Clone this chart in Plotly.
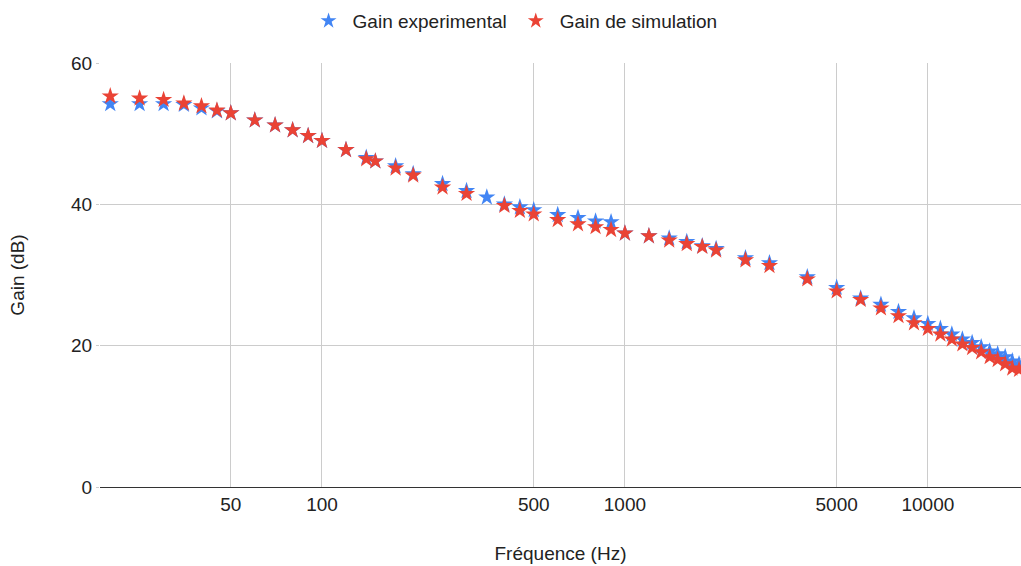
import math
import plotly.graph_objects as go

freq_exp = [20, 25, 30, 35, 40, 45, 50, 60, 70, 80, 90, 100, 120, 140, 150, 175, 200, 250, 300, 350,
            400, 450, 500, 600, 700, 800, 900, 1000, 1200, 1400, 1600, 1800, 2000, 2500, 3000, 4000,
            5000, 6000, 7000, 8000, 9000, 10000, 11000, 12000, 13000, 14000, 15000, 16000, 17000,
            18000, 19000, 20000]
gain_exp = [54.2, 54.2, 54.2, 54.1, 53.6, 53.2, 52.9, 51.9, 51.2, 50.5, 49.7, 49.0, 47.7, 46.6, 46.1,
            45.4, 44.3, 42.9, 41.9, 41.0, 40.0, 39.6, 39.2, 38.5, 38.1, 37.6, 37.5, 35.9, 35.5, 35.2,
            34.7, 34.1, 33.7, 32.4, 31.7, 29.7, 28.2, 26.7, 25.8, 24.8, 23.9, 23.1, 22.4, 21.6, 20.9,
            20.4, 19.8, 19.2, 18.8, 18.4, 17.8, 17.4]

freq_sim = [20, 25, 30, 35, 40, 45, 50, 60, 70, 80, 90, 100, 120, 140, 150, 175, 200, 250, 300,
            400, 450, 500, 600, 700, 800, 900, 1000, 1200, 1400, 1600, 1800, 2000, 2500, 3000, 4000,
            5000, 6000, 7000, 8000, 9000, 10000, 11000, 12000, 13000, 14000, 15000, 16000, 17000,
            18000, 19000, 20000]
gain_sim = [55.3, 55.0, 54.8, 54.3, 53.9, 53.3, 52.9, 51.9, 51.2, 50.5, 49.7, 49.0, 47.7, 46.4, 46.1,
            45.1, 44.1, 42.4, 41.5, 39.8, 39.1, 38.6, 37.8, 37.2, 36.8, 36.4, 35.9, 35.5, 34.9,
            34.4, 34.0, 33.5, 32.1, 31.3, 29.4, 27.7, 26.5, 25.3, 24.2, 23.2, 22.4, 21.6, 20.9,
            20.2, 19.7, 19.1, 18.4, 18.0, 17.4, 16.8, 16.6]

x_ticks = [50, 100, 500, 1000, 5000, 10000]
x_ticktext = ["50", "100", "500", "1000", "5000", "10000"]
y_ticks = [0, 20, 40, 60]

FONT = "Arial, Liberation Sans, sans-serif"
FS = 19
TXT = "#222222"

fig = go.Figure()
fig.add_trace(go.Scatter(x=freq_exp, y=gain_exp, mode="markers", name="Gain experimental",
                         marker=dict(symbol="star", size=13, color="#4285F4", line=dict(width=0)),
                         cliponaxis=False))
fig.add_trace(go.Scatter(x=freq_sim, y=gain_sim, mode="markers", name="Gain de simulation",
                         marker=dict(symbol="star", size=13, color="#EA4335", line=dict(width=0)),
                         cliponaxis=False))

fig.update_layout(
    width=1021, height=566,
    margin=dict(l=100, r=0, t=63, b=79),
    paper_bgcolor="white", plot_bgcolor="white",
    font=dict(family=FONT, size=FS, color=TXT),
    legend=dict(orientation="h", xref="container", yref="container", x=0.503, xanchor="center",
                y=1 - 21 / 566, yanchor="middle", font=dict(size=FS, color=TXT),
                itemsizing="constant", itemwidth=38),
    xaxis=dict(type="log", range=[math.log10(18.5), math.log10(20300)],
               tickvals=x_ticks, ticktext=x_ticktext, showgrid=True, gridcolor="#cccccc",
               gridwidth=1, zeroline=False, showline=True, linecolor="#333333", linewidth=1,
               ticks="", tickfont=dict(size=FS, color=TXT),
               title=dict(text="Fréquence (Hz)", standoff=32, font=dict(size=FS, color=TXT)),
               automargin=False),
    yaxis=dict(range=[0, 60], tickvals=y_ticks, showgrid=True, gridcolor="#cccccc", gridwidth=1,
               zeroline=False, showline=False, ticks="outside", ticklen=3, tickcolor="#cccccc",
               tickfont=dict(size=FS, color=TXT),
               title=dict(text="Gain (dB)", standoff=41, font=dict(size=FS, color=TXT)),
               automargin=False),
)

fig.write_html("out.html", config={"displayModeBar": False},
               post_script="document.body.style.margin='0';document.body.style.overflow='hidden';")
